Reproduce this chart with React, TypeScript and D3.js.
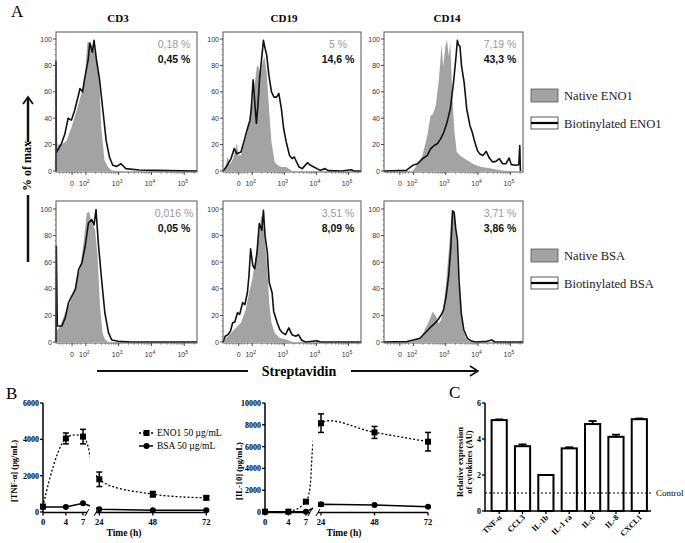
import React from 'react';
import * as d3 from 'd3';

type Pt = [number, number];

// ---- Panel A: flow histograms, x in display decades (10^k at k), y in % of max
const flowDomain = [1.09, 5.39];
const flowTickVals = [1.58, 2, 3, 4, 5];
const flowTickBase = ['0', '10', '10', '10', '10'];
const flowTickExp = ['', '2', '3', '4', '5'];
const panelTitles = ['CD3', 'CD19', 'CD14'];

const cd3NativeEno1: Pt[] = [[1.09, 0], [1.1, 10], [1.14, 20], [1.26, 20], [1.41, 23], [1.56, 33], [1.72, 46], [1.87, 59], [1.97, 71], [2.05, 98], [2.12, 97], [2.22, 94], [2.32, 87], [2.42, 64], [2.47, 33], [2.57, 8], [2.68, 3], [2.78, 0.5], [2.9, 0]];
const cd3BiotEno1: Pt[] = [[1.09, 0], [1.09, 83], [1.1, 14], [1.26, 21], [1.36, 28], [1.46, 40], [1.56, 38.5], [1.66, 46], [1.77, 57], [1.82, 62.5], [1.9, 60], [1.97, 71], [2.07, 84], [2.12, 97], [2.2, 90], [2.25, 99], [2.32, 85], [2.42, 69], [2.52, 46], [2.62, 23], [2.72, 10.6], [2.82, 4.3], [2.94, 3.5], [3.07, 5.5], [3.22, 1.8], [3.62, 0.8], [4.13, 0.5], [5.39, 0]];
const cd19NativeEno1: Pt[] = [[1.09, 0], [1.17, 4], [1.24, 11], [1.3, 5], [1.4, 9], [1.52, 21], [1.58, 12], [1.65, 12], [1.75, 20.8], [1.85, 29.6], [1.95, 42], [2.05, 60], [2.15, 80], [2.2, 79], [2.25, 72.6], [2.33, 82.8], [2.38, 86.6], [2.45, 75], [2.53, 44.8], [2.6, 22], [2.7, 6.8], [2.8, 4.3], [2.91, 3], [3.06, 3], [3.16, 1.3], [3.26, 0]];
const cd19BiotEno1: Pt[] = [[1.09, 0], [1.19, 3], [1.34, 9.4], [1.44, 17], [1.52, 13], [1.65, 14.4], [1.75, 23], [1.85, 32], [1.93, 38.5], [1.97, 47], [2.03, 69], [2.08, 52], [2.13, 36], [2.18, 50], [2.23, 70], [2.3, 86.6], [2.35, 99], [2.4, 93], [2.45, 88], [2.52, 72.6], [2.6, 60], [2.68, 56], [2.76, 56], [2.83, 58.7], [2.91, 47], [2.98, 32], [3.06, 22], [3.16, 12], [3.24, 9.4], [3.31, 10.6], [3.38, 7], [3.46, 3], [3.56, 1.8], [3.72, 6.3], [3.82, 4.3], [3.92, 3], [4.02, 1.8], [4.12, 0.5], [4.27, 1.8], [4.37, 0.3], [4.78, 0], [5.08, 1], [5.18, 0], [5.39, 0]];
const cd14NativeEno1: Pt[] = [[1.09, 0], [1.98, 0], [2.13, 5.5], [2.28, 11.8], [2.43, 26.8], [2.53, 41.9], [2.6, 43], [2.69, 49.4], [2.79, 69.4], [2.87, 95.7], [2.92, 79.4], [2.99, 94.5], [3.04, 99.5], [3.09, 87], [3.14, 97], [3.21, 54.4], [3.27, 29.3], [3.34, 14.3], [3.44, 11.8], [3.59, 9.3], [3.75, 6.8], [3.9, 4.8], [4.1, 3], [4.4, 1.8], [4.7, 0.5], [4.9, 0]];
const cd14BiotEno1: Pt[] = [[1.09, 0], [1.78, 0.5], [1.98, 4.3], [2.13, 5.5], [2.28, 9.3], [2.43, 11.8], [2.53, 16.8], [2.64, 19.3], [2.74, 20.6], [2.84, 24.3], [2.94, 29.3], [3.04, 36.8], [3.14, 46.9], [3.24, 67], [3.31, 84.5], [3.36, 99], [3.39, 95.7], [3.44, 94.5], [3.49, 79.4], [3.57, 67], [3.65, 46.9], [3.75, 34.3], [3.82, 29.3], [3.9, 21.8], [3.98, 15.5], [4.05, 13], [4.15, 11.8], [4.25, 14.8], [4.35, 9.8], [4.45, 6.8], [4.55, 7.3], [4.66, 9.3], [4.76, 5.5], [4.86, 5.5], [4.96, 9.8], [5.03, 4.8], [5.16, 4.3], [5.26, 4.8], [5.29, 19.3], [5.31, 0]];

const cd3NativeBsa: Pt[] = [[1.09, 0], [1.1, 8], [1.22, 12], [1.37, 22], [1.52, 29.5], [1.68, 42], [1.83, 56], [1.93, 74.5], [2.03, 97], [2.1, 98], [2.18, 89.5], [2.28, 84.5], [2.36, 64.5], [2.43, 27], [2.51, 7], [2.58, 2], [2.69, 0]];
const cd3BiotBsa: Pt[] = [[1.09, 0], [1.1, 72], [1.13, 12], [1.27, 12], [1.37, 18], [1.47, 29.5], [1.57, 34.5], [1.68, 39.5], [1.78, 54.5], [1.88, 59.5], [1.98, 72], [2.08, 89.5], [2.18, 92], [2.25, 88], [2.31, 99.5], [2.38, 74.5], [2.48, 47], [2.58, 22], [2.69, 7], [2.79, 1.5], [2.99, 0.5], [3.39, 0], [5.39, 0]];
const cd19NativeBsa: Pt[] = [[1.09, 0], [1.19, 3], [1.34, 6.8], [1.49, 10.6], [1.65, 14.4], [1.8, 24.5], [1.9, 37], [2.0, 47], [2.1, 62.5], [2.2, 77.7], [2.28, 95], [2.33, 93], [2.4, 75], [2.47, 55], [2.53, 29.6], [2.6, 14.4], [2.7, 6.8], [2.86, 3], [3.06, 1.8], [3.26, 0]];
const cd19BiotBsa: Pt[] = [[1.09, 0], [1.16, 4.3], [1.24, 5.5], [1.32, 8], [1.39, 14.4], [1.46, 15], [1.54, 22], [1.61, 20.8], [1.7, 29.6], [1.77, 28], [1.85, 37], [1.9, 50], [1.95, 70], [2.02, 57.5], [2.08, 55], [2.15, 67.6], [2.22, 89], [2.3, 84], [2.35, 99], [2.4, 80], [2.47, 67.6], [2.53, 44.8], [2.62, 37], [2.67, 23], [2.78, 14.4], [2.86, 9.4], [2.94, 7], [3.04, 5.5], [3.14, 10.6], [3.24, 5.5], [3.36, 4.3], [3.44, 5.5], [3.54, 1.3], [3.67, 0], [4.02, 1], [4.12, 0], [5.39, 0]];
const cd14NativeBsa: Pt[] = [[1.09, 0], [1.9, 0], [2.1, 2], [2.25, 4], [2.35, 9], [2.45, 14], [2.52, 18], [2.6, 23], [2.66, 20.5], [2.71, 19], [2.78, 14], [2.86, 16.7], [2.93, 26.8], [3.01, 44], [3.09, 67], [3.16, 90], [3.21, 98.7], [3.26, 96], [3.33, 80], [3.39, 47], [3.46, 24], [3.54, 9], [3.62, 2.8], [3.72, 0.5], [3.87, 0]];
const cd14BiotBsa: Pt[] = [[1.09, 0], [1.8, 0.3], [2.0, 1.5], [2.2, 2.8], [2.35, 6.6], [2.45, 9], [2.55, 11.6], [2.66, 14], [2.76, 16.7], [2.86, 20.5], [2.93, 24], [3.01, 34], [3.09, 49.5], [3.16, 72], [3.21, 98.7], [3.26, 97.5], [3.31, 85], [3.36, 77], [3.41, 47], [3.48, 21.7], [3.56, 9], [3.67, 2.8], [3.77, 1], [3.92, 0], [4.27, 0.5], [4.42, 1.5], [4.52, 0], [5.39, 0]];

const pctNativeEno1 = ['0,18 %', '5 %', '7,19 %'];
const pctBiotEno1 = ['0,45 %', '14,6 %', '43,3 %'];
const pctNativeBsa = ['0,016 %', '3,51 %', '3,71 %'];
const pctBiotBsa = ['0,05 %', '8,09 %', '3,86 %'];

// ---- Panel B: time course
const hours = [0, 4, 7, 24, 48, 72];
const tnfEno1 = [300, 4050, 4150, 1800, 980, 780];
const tnfEno1Err = [0, 300, 400, 400, 150, 100];
const tnfBsa = [280, 270, 480, 150, 100, 100];
const tnfBsaErr = [0, 0, 0, 0, 0, 0];
const il10Eno1 = [30, 30, 950, 8150, 7300, 6450];
const il10Eno1Err = [0, 0, 100, 850, 550, 850];
const il10Bsa = [30, 30, 30, 700, 640, 490];
const il10BsaErr = [0, 0, 0, 150, 0, 0];

// ---- Panel C: cytokine expression
const cytokines = ['TNF-α', 'CCL3', 'IL-1b', 'IL-1 ra', 'IL-6', 'IL-8', 'CXCL1'];
const cytoValues = [5.05, 3.6, 2.0, 3.48, 4.83, 4.12, 5.1];
const cytoErrors = [0.04, 0.1, 0, 0.06, 0.17, 0.12, 0.04];

const SERIF = '"Liberation Serif", "Times New Roman", serif';
const SANS = '"Liberation Sans", Arial, sans-serif';

const rows = [
  { top: 32, yTop: 39, yBot: 171, bottom: 172 },
  { top: 201, yTop: 209, yBot: 342, bottom: 343 },
];
const cols = [{ left: 56, right: 197 }, { left: 223, right: 361 }, { left: 384, right: 523 }];

const FlowPlot = ({ col, row, native, biot, pctA, pctB }) => {
  const x = d3.scaleLinear().domain(flowDomain).range([col.left, col.right]);
  const y = d3.scaleLinear().domain([0, 100]).range([row.yBot, row.yTop]);
  const area = d3.area<Pt>().x(d => x(d[0])).y0(y(0)).y1(d => y(d[1]));
  const line = d3.line<Pt>().x(d => x(d[0])).y(d => y(d[1]));
  const minorX: number[] = [];
  [2, 3, 4].forEach(k => d3.range(2, 10).forEach(m => minorX.push(k + Math.log10(m))));
  [1.2, 1.3, 1.4, 1.5, 1.66, 1.75, 1.85, 5.3].forEach(v => minorX.push(v));
  const yMajor = d3.range(0, 101, 20);
  const yMinor = d3.range(0, 101, 4).filter(v => v % 20 !== 0);
  const cx = col.right - 23;
  return (
    <g>
      <path d={area(native) ?? ''} fill="#a3a3a3" />
      <path d={line(biot) ?? ''} fill="none" stroke="#111" strokeWidth={1.6} strokeLinejoin="round" />
      <rect x={col.left} y={row.top} width={col.right - col.left} height={row.bottom - row.top} fill="none" stroke="#555" strokeWidth={1} />
      {yMajor.map(v => (
        <g key={v}>
          <line x1={col.left - 3} x2={col.left} y1={y(v)} y2={y(v)} stroke="#444" />
          <text x={col.left - 4} y={y(v) + 2.5} fontSize={7} fontFamily={SANS} fill="#333" textAnchor="end">{v}</text>
        </g>
      ))}
      {yMinor.map(v => <line key={v} x1={col.left - 1.5} x2={col.left} y1={y(v)} y2={y(v)} stroke="#666" strokeWidth={0.7} />)}
      {flowTickVals.map((v, i) => (
        <g key={v}>
          <line x1={x(v)} x2={x(v)} y1={row.bottom} y2={row.bottom + 3} stroke="#444" />
          <text x={x(v) - (flowTickExp[i] ? 1.5 : 0)} y={row.bottom + 14} fontSize={7} fontFamily={SANS} fill="#333" textAnchor="middle">
            {flowTickBase[i]}
            {flowTickExp[i] && <tspan dy={-3} fontSize={5}>{flowTickExp[i]}</tspan>}
          </text>
        </g>
      ))}
      {minorX.map(v => <line key={v} x1={x(v)} x2={x(v)} y1={row.bottom} y2={row.bottom + 1.8} stroke="#666" strokeWidth={0.7} />)}
      <text x={cx} y={row.top + 15.5} fontSize={10.5} fontFamily={SANS} fill="#9a9a9a" textAnchor="middle">{pctA}</text>
      <text x={cx} y={row.top + 31} fontSize={10.5} fontFamily={SANS} fontWeight="bold" fill="#111" textAnchor="middle">{pctB}</text>
    </g>
  );
};

const Legend = ({ top, a, b }) => (
  <g fontFamily={SERIF} fontSize={12.6} fill="#222">
    <rect x={531} y={top} width={27} height={13} fill="#a3a3a3" stroke="#555" strokeWidth={0.8} />
    <text x={564} y={top + 11}>{a}</text>
    <rect x={531} y={top + 28} width={27} height={12} fill="#fff" stroke="#333" strokeWidth={0.8} />
    <line x1={531} x2={558} y1={top + 34} y2={top + 34} stroke="#000" strokeWidth={2.2} />
    <text x={564} y={top + 39}>{b}</text>
  </g>
);

const TimeCourse = ({ id, axisX, seg1End, seg2Start, seg2At24, yMax, yTicks, eno1, eno1Err, bsa, bsaErr, yLabel, yLabelX, timeX }) => {
  const y = d3.scaleLinear().domain([0, yMax]).range([512, 403]);
  const s1 = d3.scaleLinear().domain([0, 7]).range([axisX, axisX + 7 * (seg1End - axisX) / 7.7]);
  const pxPerH2 = 2.23;
  const s2 = d3.scaleLinear().domain([24, 72]).range([seg2At24, seg2At24 + 48 * pxPerH2]);
  const xs = (h: number) => (h < 15 ? s1(h) : s2(h));
  const lineEno = d3.line<number>().x((_, i) => xs(hours[i])).y(d => y(d)).curve(d3.curveCatmullRom.alpha(0.5));
  const lineBsa = d3.line<number>().x((_, i) => xs(hours[i])).y(d => y(d));
  const right = s2(72);
  const err = (vals: number[], errs: number[]) => vals.map((v, i) => errs[i] > 0 ? (
    <g key={i} stroke="#000" strokeWidth={1.5}>
      <line x1={xs(hours[i])} x2={xs(hours[i])} y1={y(v - errs[i])} y2={y(v + errs[i])} />
      <line x1={xs(hours[i]) - 3} x2={xs(hours[i]) + 3} y1={y(v + errs[i])} y2={y(v + errs[i])} />
      <line x1={xs(hours[i]) - 3} x2={xs(hours[i]) + 3} y1={y(v - errs[i])} y2={y(v - errs[i])} />
    </g>
  ) : null);
  return (
    <g>
      <defs>
        <clipPath id={id}>
          <rect x={axisX - 5} y={380} width={seg1End + 3 - axisX + 5} height={140} />
          <rect x={seg2Start} y={380} width={right + 10 - seg2Start} height={140} />
        </clipPath>
      </defs>
      <g clipPath={`url(#${id})`}>
        <path d={lineEno(eno1) ?? ''} fill="none" stroke="#000" strokeWidth={1.3} strokeDasharray="2,2" />
        <path d={lineBsa(bsa) ?? ''} fill="none" stroke="#000" strokeWidth={1.5} />
      </g>
      {err(eno1, eno1Err)}
      {err(bsa, bsaErr)}
      {bsa.map((v, i) => <circle key={i} cx={xs(hours[i])} cy={y(v)} r={3} fill="#000" />)}
      {eno1.map((v, i) => <rect key={i} x={xs(hours[i]) - 3} y={y(v) - 3} width={6} height={6} fill="#000" />)}
      {/* axes */}
      <line x1={axisX} x2={axisX} y1={y(0) + 0.5} y2={y(yMax)} stroke="#000" strokeWidth={1.5} />
      {yTicks.map(v => (
        <g key={v}>
          <line x1={axisX - 3} x2={axisX} y1={y(v)} y2={y(v)} stroke="#000" strokeWidth={1.3} />
          <text x={axisX - 4} y={y(v) + 3} fontSize={8} fontWeight="bold" fontFamily={SERIF} textAnchor="end">{v}</text>
        </g>
      ))}
      <line x1={axisX} x2={seg1End} y1={512.5} y2={512.5} stroke="#000" strokeWidth={1.5} />
      <line x1={seg2Start} x2={right} y1={512.5} y2={512.5} stroke="#000" strokeWidth={1.5} />
      <line x1={seg1End - 2} x2={seg1End + 2} y1={516} y2={509} stroke="#000" strokeWidth={1} />
      <line x1={seg2Start - 2} x2={seg2Start + 2} y1={516} y2={509} stroke="#000" strokeWidth={1} />
      {hours.map(h => (
        <g key={h}>
          <line x1={xs(h)} x2={xs(h)} y1={512.5} y2={515.5} stroke="#000" strokeWidth={1.3} />
          <text x={xs(h)} y={525} fontSize={8.5} fontWeight="bold" fontFamily={SERIF} textAnchor="middle">{h}</text>
        </g>
      ))}
      <text x={timeX} y={536} fontSize={9.5} fontWeight="bold" fontFamily={SERIF} textAnchor="middle">Time (h)</text>
      <text transform={`translate(${yLabelX},471) rotate(-90)`} fontSize={8.5} fontWeight="bold" fontFamily={SERIF} textAnchor="middle">{yLabel}</text>
    </g>
  );
};

const BarPanel = () => {
  const x = d3.scaleBand<string>().domain(cytokines).range([487.5, 651]).paddingInner(0.35).paddingOuter(0.175);
  const y = d3.scaleLinear().domain([0, 6]).range([511, 403]);
  const bw = x.bandwidth();
  return (
    <g>
      {cytokines.map((c, i) => {
        const x0 = x(c) ?? 0;
        const cx = x0 + bw / 2;
        return (
          <g key={c}>
            <rect x={x0} y={y(cytoValues[i])} width={bw} height={y(0) - y(cytoValues[i])} fill="#fff" stroke="#000" strokeWidth={2} />
            {cytoErrors[i] > 0 && (
              <g stroke="#000" strokeWidth={1.8}>
                <line x1={cx} x2={cx} y1={y(cytoValues[i])} y2={y(cytoValues[i] + cytoErrors[i])} />
                <line x1={cx - 4} x2={cx + 4} y1={y(cytoValues[i] + cytoErrors[i])} y2={y(cytoValues[i] + cytoErrors[i])} />
              </g>
            )}
            <line x1={cx} x2={cx} y1={511} y2={514} stroke="#000" strokeWidth={1.3} />
            <text transform={`translate(${cx + 3},518) rotate(-45)`} fontSize={8} fontWeight="bold" fontFamily={SERIF} textAnchor="end">{c}</text>
          </g>
        );
      })}
      <line x1={485} x2={485} y1={511.5} y2={403} stroke="#000" strokeWidth={1.5} />
      <line x1={485} x2={651} y1={511} y2={511} stroke="#000" strokeWidth={1.5} />
      {[0, 2, 4, 6].map(v => (
        <g key={v}>
          <line x1={482} x2={485} y1={y(v)} y2={y(v)} stroke="#000" strokeWidth={1.3} />
          <text x={481} y={y(v) + 3} fontSize={8} fontWeight="bold" fontFamily={SERIF} textAnchor="end">{v}</text>
        </g>
      ))}
      <line x1={485} x2={653} y1={y(1)} y2={y(1)} stroke="#000" strokeWidth={1} strokeDasharray="2,2" />
      <text x={656} y={y(1) + 3} fontSize={9} fontFamily={SERIF}>Control</text>
      <text transform="translate(463,462) rotate(-90)" fontSize={8.5} fontWeight="bold" fontFamily={SERIF} textAnchor="middle">Relative expression</text>
      <text transform="translate(472,462) rotate(-90)" fontSize={8.5} fontWeight="bold" fontFamily={SERIF} textAnchor="middle">of cytokines (AU)</text>
    </g>
  );
};

export default function App() {
  const eno1 = [[cd3NativeEno1, cd3BiotEno1], [cd19NativeEno1, cd19BiotEno1], [cd14NativeEno1, cd14BiotEno1]];
  const bsa = [[cd3NativeBsa, cd3BiotBsa], [cd19NativeBsa, cd19BiotBsa], [cd14NativeBsa, cd14BiotBsa]];
  const titleX = [118, 284, 447];
  return (
    <svg width={685} height={543} style={{ position: 'absolute', left: 0, top: 0, background: '#fff' }}>
      <rect width={685} height={543} fill="#fff" />
      <text x={11} y={17} fontSize={17} fontFamily={SERIF}>A</text>
      {panelTitles.map((t, i) => (
        <text key={t} x={titleX[i]} y={22} fontSize={11} fontWeight="bold" fontFamily={SERIF} textAnchor="middle">{t}</text>
      ))}
      {cols.map((c, i) => (
        <FlowPlot key={'e' + i} col={c} row={rows[0]} native={eno1[i][0]} biot={eno1[i][1]} pctA={pctNativeEno1[i]} pctB={pctBiotEno1[i]} />
      ))}
      {cols.map((c, i) => (
        <FlowPlot key={'b' + i} col={c} row={rows[1]} native={bsa[i][0]} biot={bsa[i][1]} pctA={pctNativeBsa[i]} pctB={pctBiotBsa[i]} />
      ))}
      <Legend top={89} a="Native ENO1" b="Biotinylated ENO1" />
      <Legend top={249} a="Native BSA" b="Biotinylated BSA" />
      {/* % of max arrow */}
      <g stroke="#111" strokeWidth={2.5} fill="none">
        <line x1={28} x2={28} y1={142} y2={98} />
        <polyline points="23,104 28,97 33,104" strokeWidth={1.8} />
        <line x1={28} x2={28} y1={195} y2={262} />
      </g>
      <text transform="translate(31,166) rotate(-90)" fontSize={12} fontWeight="bold" fontFamily={SERIF} textAnchor="middle">% of max</text>
      {/* Streptavidin arrow */}
      <g stroke="#111" strokeWidth={2.2} fill="none">
        <line x1={97} x2={248} y1={371} y2={371} />
        <line x1={351} x2={478} y1={371} y2={371} />
        <polyline points="470,366 478,371 470,376" strokeWidth={1.6} />
      </g>
      <text x={299} y={375.5} fontSize={14} fontWeight="bold" fontFamily={SERIF} textAnchor="middle">Streptavidin</text>

      <text x={6} y={399} fontSize={17} fontFamily={SERIF}>B</text>
      <TimeCourse id="clipTnf" axisX={43} seg1End={87} seg2Start={96} seg2At24={99.3} yMax={6000} yTicks={[0, 2000, 4000, 6000]}
        eno1={tnfEno1} eno1Err={tnfEno1Err} bsa={tnfBsa} bsaErr={tnfBsaErr} yLabel="[TNF-α] (pg/mL)" yLabelX={17} timeX={124} />
      <TimeCourse id="clipIl10" axisX={265} seg1End={310} seg2Start={318} seg2At24={321} yMax={10000} yTicks={[0, 2000, 4000, 6000, 8000, 10000]}
        eno1={il10Eno1} eno1Err={il10Eno1Err} bsa={il10Bsa} bsaErr={il10BsaErr} yLabel="[IL-10] (pg/mL)" yLabelX={242} timeX={344} />
      {/* legend B */}
      <g>
        <line x1={139} x2={153} y1={433} y2={433} stroke="#000" strokeWidth={1.3} strokeDasharray="2,2" />
        <rect x={143.5} y={430} width={6} height={6} fill="#000" />
        <text x={157} y={436} fontSize={9.5} fontFamily={SERIF}>ENO1 50 µg/mL</text>
        <line x1={139} x2={153} y1={446} y2={446} stroke="#000" strokeWidth={1.5} />
        <circle cx={146.5} cy={446} r={3} fill="#000" />
        <text x={157} y={449} fontSize={9.5} fontFamily={SERIF}>BSA 50 µg/mL</text>
      </g>

      <text x={449} y={398} fontSize={17} fontFamily={SERIF}>C</text>
      <BarPanel />
    </svg>
  );
}
